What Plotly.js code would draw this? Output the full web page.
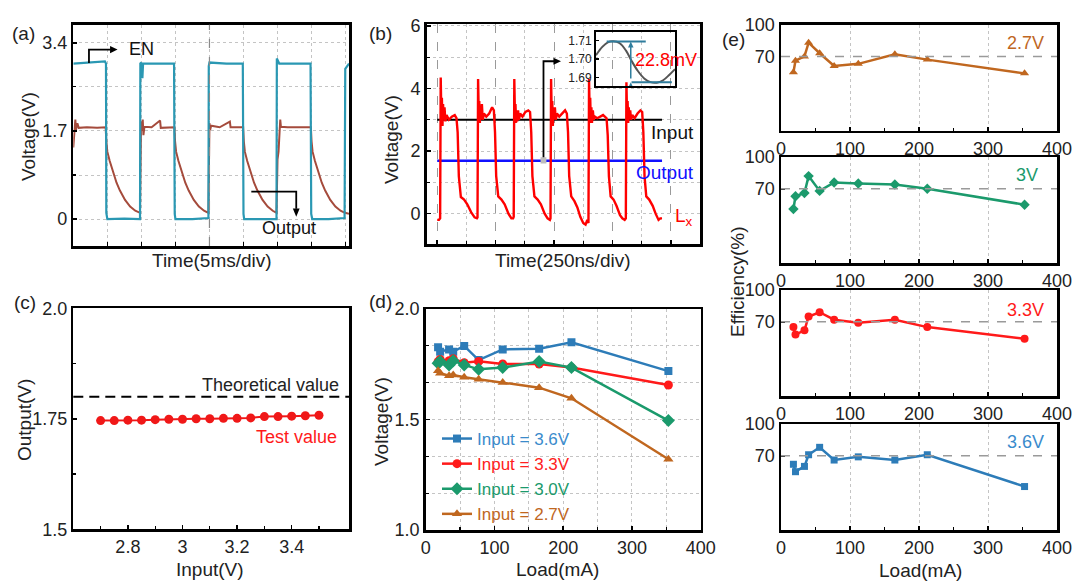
<!DOCTYPE html>
<html>
<head>
<meta charset="utf-8">
<script src="https://cdn.plot.ly/plotly-3.0.1.min.js"></script>
<style>
html, body { margin: 0; padding: 0; background: #fff; }
#chart { width: 1080px; height: 588px; }
</style>
</head>
<body>
<div id="chart"></div>
<script>
// (a) EN and output transient, time in divisions (5 ms/div)
var enTime = [0, 0.5, 0.93, 0.96, 0.97, 1.0, 1.5, 1.96, 1.97, 2.0, 2.03, 2.05, 2.5, 2.96, 2.98, 3.0, 3.5, 3.97, 3.98, 4.0, 4.5, 4.98, 5.0, 5.02, 5.5, 5.97, 5.98, 6.02, 6.05, 6.5, 6.97, 6.99, 7.02, 7.5, 7.97, 7.99, 8.1];
var enVolt = [3.0, 3.02, 3.04, 3.0, 0.12, 0.0, 0.01, 0.0, 3.0, 3.02, 2.72, 3.0, 3.0, 3.0, 0.1, 0.0, 0.0, 0.02, 2.95, 3.02, 3.0, 3.0, 0.1, 0.0, 0.0, 0.0, 3.1, 3.05, 3.0, 3.0, 3.0, 0.1, 0.0, 0.0, 0.02, 2.9, 3.0];
var outTime = [
    0, 0.02, 0.04, 0.06, 0.08, 0.12, 0.16, 0.4, 0.7, 0.95,
    0.97, 1.0, 1.07, 1.17, 1.27, 1.37, 1.52, 1.67, 1.82, 1.96,
    1.97, 1.99, 2.01, 2.04, 2.06, 2.09, 2.3, 2.55, 2.57, 2.97,
    2.99, 3.02, 3.09, 3.19, 3.29, 3.39, 3.54, 3.69, 3.84, 3.97,
    3.98, 4.0, 4.02, 4.05, 4.3, 4.6, 4.62, 4.99,
    5.01, 5.04, 5.11, 5.21, 5.31, 5.41, 5.56, 5.71, 5.86, 5.97,
    5.98, 6.0, 6.03, 6.06, 6.08, 6.1, 6.3, 6.6, 6.98,
    7.0, 7.03, 7.1, 7.2, 7.3, 7.4, 7.55, 7.7, 7.85, 7.98, 8.1];
var outVolt = [
    1.38, 1.6, 1.8, 1.92, 1.72, 1.85, 1.76, 1.77, 1.76, 1.77,
    1.5, 1.3, 1.12, 0.9, 0.7, 0.55, 0.37, 0.24, 0.16, 0.12,
    1.78, 1.88, 1.7, 1.92, 1.62, 1.78, 1.77, 1.9, 1.76, 1.77,
    1.5, 1.3, 1.12, 0.9, 0.7, 0.55, 0.37, 0.24, 0.16, 0.12,
    1.7, 1.85, 1.72, 1.8, 1.77, 1.88, 1.77, 1.77,
    1.5, 1.3, 1.12, 0.9, 0.7, 0.55, 0.37, 0.24, 0.16, 0.12,
    0.8, 1.15, 1.3, 1.75, 1.92, 1.78, 1.77, 1.77, 1.77,
    1.5, 1.3, 1.12, 0.9, 0.7, 0.55, 0.37, 0.24, 0.16, 0.12, 0.1];

// (b) switching node, time in divisions (250 ns/div)
var lxTime = [
    0, 0.03, 0.05, 0.06, 0.072, 0.08, 0.09, 0.10, 0.11, 0.125, 0.14, 0.16, 0.2, 0.25, 0.3, 0.33, 0.35, 0.37, 0.405, 0.46, 0.515, 0.58, 0.64, 0.68, 0.69,
    0.70, 0.712, 0.72, 0.73, 0.74, 0.75, 0.765, 0.78, 0.80, 0.84, 0.89, 0.94, 0.97, 0.99, 1.01, 1.045, 1.10, 1.155, 1.22, 1.27, 1.30, 1.31,
    1.32, 1.332, 1.34, 1.35, 1.36, 1.37, 1.385, 1.40, 1.42, 1.46, 1.51, 1.56, 1.59, 1.61, 1.63, 1.665, 1.72, 1.775, 1.84, 1.89, 1.93, 1.94,
    1.95, 1.962, 1.97, 1.98, 1.99, 2.0, 2.015, 2.03, 2.05, 2.09, 2.14, 2.19, 2.22, 2.24, 2.26, 2.295, 2.35, 2.40, 2.45, 2.50, 2.54, 2.57, 2.59,
    2.60, 2.612, 2.62, 2.63, 2.64, 2.65, 2.665, 2.68, 2.70, 2.74, 2.79, 2.84, 2.90, 2.92, 2.94, 2.97, 3.02, 3.07, 3.13, 3.17, 3.21, 3.23,
    3.24, 3.252, 3.26, 3.27, 3.28, 3.29, 3.305, 3.32, 3.34, 3.38, 3.43, 3.48, 3.51, 3.53, 3.55, 3.58, 3.63, 3.69, 3.74, 3.79, 3.82, 3.85];
var lxVolt = [
    -0.2, -0.2, -0.15, 4.35, 3.0, 3.7, 2.8, 3.5, 3.0, 3.4, 2.95, 3.15, 3.0, 3.1, 3.15, 3.05, 2.6, 1.2, 0.53, 0.45, 0.3, 0.05, -0.12, -0.15, -0.12,
    4.3, 3.1, 3.6, 2.9, 3.4, 3.0, 3.5, 3.0, 3.2, 3.1, 3.2, 3.4, 3.3, 2.6, 1.2, 0.55, 0.45, 0.3, 0.0, -0.15, -0.15, -0.1,
    4.3, 3.0, 3.5, 2.9, 3.3, 2.95, 3.3, 3.0, 3.2, 3.1, 3.25, 3.3, 3.25, 2.6, 1.2, 0.55, 0.45, 0.3, 0.0, -0.15, -0.2, -0.15,
    4.3, 3.0, 3.6, 2.8, 3.4, 3.0, 3.4, 3.0, 3.2, 3.1, 3.2, 3.3, 3.2, 2.6, 1.2, 0.55, 0.4, 0.2, -0.1, -0.3, -0.35, -0.2, -0.3,
    4.3, 3.0, 3.7, 2.9, 3.4, 2.9, 3.3, 3.0, 3.1, 3.05, 3.1, 3.15, 3.05, 2.5, 1.2, 0.55, 0.45, 0.25, -0.05, -0.15, -0.2, -0.15,
    4.2, 3.0, 3.6, 2.9, 3.4, 3.0, 3.3, 3.0, 3.15, 3.05, 3.2, 3.3, 3.25, 2.6, 1.2, 0.55, 0.45, 0.25, 0.0, -0.2, -0.15, -0.15];
var railTime = [0, 3.85];
var inputLevel = 3.0;
var outputLevel = 1.69;

// (b) inset: output ripple
var rippleTime = [0, 0.08, 0.15, 0.22, 0.3, 0.38, 0.45, 0.53, 0.61, 0.69, 0.77, 0.85, 0.93, 1.0];
var rippleVolt = [1.7020, 1.7065, 1.7090, 1.7095, 1.7085, 1.7045, 1.6990, 1.6935, 1.6895, 1.6875, 1.6872, 1.6885, 1.6915, 1.6945];
var rippleMax = 1.7094;
var rippleMin = 1.6874;

// (c) line regulation
var inputV = [2.7, 2.75, 2.8, 2.85, 2.9, 2.95, 3.0, 3.05, 3.1, 3.15, 3.2, 3.25, 3.3, 3.35, 3.4, 3.45, 3.5];
var outputV = [1.746, 1.746, 1.747, 1.747, 1.748, 1.749, 1.749, 1.750, 1.750, 1.751, 1.751, 1.752, 1.755, 1.755, 1.756, 1.757, 1.758];
var theoretical = 1.8;

// (d) load regulation and (e) efficiency
var loadmA = [18, 21, 34, 40, 56, 77, 112, 165, 212, 353];
var v36 = [1.827, 1.807, 1.817, 1.807, 1.833, 1.769, 1.817, 1.820, 1.849, 1.719];
var v33 = [1.762, 1.772, 1.766, 1.775, 1.757, 1.763, 1.751, 1.751, 1.735, 1.656];
var v30 = [1.754, 1.762, 1.747, 1.766, 1.747, 1.727, 1.735, 1.762, 1.735, 1.495];
var v27 = [1.721, 1.709, 1.698, 1.701, 1.691, 1.682, 1.667, 1.644, 1.596, 1.320];
var eff27 = [55, 66, 70, 83, 73, 61, 63, 72, 67, 54];
var eff30 = [51, 63, 66, 82, 68, 76, 75, 74, 70, 55];
var eff33 = [65, 58, 62, 75, 79, 72, 69, 72, 65, 54];
var eff36 = [62, 55, 60, 71, 78, 66, 69, 66, 71, 41];

var FONT = 'Liberation Sans, Arial, Helvetica, sans-serif';
var C36 = '#2d7cb8', C33 = '#ff1a1a', C30 = '#1b9a6c', C27 = '#c0671f';
var GRID = '#c4c4c4';

function px(x) { return x / 1080; }
function py(y) { return 1 - y / 588; }

function boxAxis(extra)
{
    var ax = {
        showline: true, linecolor: '#000', linewidth: 2.5, mirror: true,
        ticks: 'inside', ticklen: 4, tickwidth: 1.5, tickcolor: '#000',
        showgrid: false, zeroline: false, fixedrange: true,
        tickfont: {family: FONT, size: 18, color: '#222'}
    };
    for (var k in extra) ax[k] = extra[k];
    return ax;
}

function txt(x, y, s, opts)
{
    var a = {
        xref: 'paper', yref: 'paper', x: px(x), y: py(y), text: s, showarrow: false,
        xanchor: 'center', yanchor: 'middle',
        font: {family: FONT, size: 18, color: '#222'}
    };
    for (var k in opts) a[k] = opts[k];
    return a;
}

// small filled arrow head drawn as a path; dx/dy are the head length and half width in axis units
function head(xr, yr, x, y, dir, len, half, color)
{
    var p;
    if (dir == 'right') p = 'M' + x + ',' + y + ' L' + (x - len) + ',' + (y + half) + ' L' + (x - len) + ',' + (y - half) + ' Z';
    else if (dir == 'down') p = 'M' + x + ',' + y + ' L' + (x - half) + ',' + (y + len) + ' L' + (x + half) + ',' + (y + len) + ' Z';
    else p = 'M' + x + ',' + y + ' L' + (x - half) + ',' + (y - len) + ' L' + (x + half) + ',' + (y - len) + ' Z';
    return {type: 'path', xref: xr, yref: yr, path: p, fillcolor: color || '#000', line: {width: 0}};
}

var traces = [
    {x: outTime, y: outVolt, xaxis: 'x', yaxis: 'y', mode: 'lines', line: {color: '#a54b3c', width: 2}, showlegend: false},
    {x: enTime, y: enVolt, xaxis: 'x', yaxis: 'y', mode: 'lines', line: {color: '#2a98b3', width: 2.2}, showlegend: false},

    {x: railTime, y: [inputLevel, inputLevel], xaxis: 'x2', yaxis: 'y2', mode: 'lines', line: {color: '#000', width: 2.2}, showlegend: false},
    {x: railTime, y: [outputLevel, outputLevel], xaxis: 'x2', yaxis: 'y2', mode: 'lines', line: {color: '#1010ff', width: 2.5}, showlegend: false},
    {x: lxTime, y: lxVolt, xaxis: 'x2', yaxis: 'y2', mode: 'lines', line: {color: '#ff0000', width: 2.4}, showlegend: false},

    {x: rippleTime, y: rippleVolt, xaxis: 'x3', yaxis: 'y3', mode: 'lines', line: {color: '#555', width: 2, shape: 'spline'}, showlegend: false},

    {x: inputV, y: outputV, xaxis: 'x4', yaxis: 'y4', mode: 'lines+markers', line: {color: '#f01818', width: 2}, marker: {color: '#f01818', size: 9}, showlegend: false},

    {x: loadmA, y: v36, xaxis: 'x5', yaxis: 'y5', mode: 'lines+markers', name: '<span style="color:#3a8bcc">Input = 3.6V</span>', line: {color: C36, width: 2.5}, marker: {symbol: 'square', size: 8, color: C36}},
    {x: loadmA, y: v33, xaxis: 'x5', yaxis: 'y5', mode: 'lines+markers', name: '<span style="color:#ff2020">Input = 3.3V</span>', line: {color: C33, width: 2.5}, marker: {symbol: 'circle', size: 9, color: C33}},
    {x: loadmA, y: v30, xaxis: 'x5', yaxis: 'y5', mode: 'lines+markers', name: '<span style="color:#1b9a6c">Input = 3.0V</span>', line: {color: C30, width: 2.5}, marker: {symbol: 'diamond', size: 10, color: C30}},
    {x: loadmA, y: v27, xaxis: 'x5', yaxis: 'y5', mode: 'lines+markers', name: '<span style="color:#c0671f">Input = 2.7V</span>', line: {color: C27, width: 2.5}, marker: {symbol: 'triangle-up', size: 9, color: C27}},

    {x: loadmA, y: eff27, xaxis: 'x6', yaxis: 'y6', mode: 'lines+markers', line: {color: C27, width: 2.5}, marker: {symbol: 'triangle-up', size: 8, color: C27}, showlegend: false},
    {x: loadmA, y: eff30, xaxis: 'x7', yaxis: 'y7', mode: 'lines+markers', line: {color: C30, width: 2.5}, marker: {symbol: 'diamond', size: 8, color: C30}, showlegend: false},
    {x: loadmA, y: eff33, xaxis: 'x8', yaxis: 'y8', mode: 'lines+markers', line: {color: C33, width: 2.5}, marker: {symbol: 'circle', size: 8, color: C33}, showlegend: false},
    {x: loadmA, y: eff36, xaxis: 'x9', yaxis: 'y9', mode: 'lines+markers', line: {color: C36, width: 2.5}, marker: {symbol: 'square', size: 7, color: C36}, showlegend: false}
];

var dotGrid = {showgrid: true, gridcolor: GRID, griddash: 'dot', gridwidth: 1};
function withGrid(o) { for (var k in dotGrid) o[k] = dotGrid[k]; return o; }
var dotMinor = function(vals, grid)
{
    var m = {tickvals: vals, ticks: 'inside', ticklen: 3, tickwidth: 1.2, tickcolor: '#000'};
    if (grid) { m.showgrid = true; m.gridcolor = GRID; m.griddash = 'dot'; }
    return m;
};

var effY = [[130.5, 24.7], [263, 157], [396, 290], [530, 424]];

var layout = {
    width: 1080, height: 588, autosize: false,
    margin: {l: 0, r: 0, t: 0, b: 0},
    paper_bgcolor: '#fff', plot_bgcolor: 'rgba(0,0,0,0)',
    font: {family: FONT, size: 18, color: '#222'},
    showlegend: true,
    legend: {x: px(437), y: py(421), xanchor: 'left', yanchor: 'top', bgcolor: 'rgba(0,0,0,0)',
             font: {family: FONT, size: 17}, tracegroupgap: 0, itemwidth: 30},

    xaxis: boxAxis(withGrid({domain: [px(73.3), px(349)], anchor: 'y', range: [0, 8.1], tickvals: [1, 2, 3, 4, 5, 6, 7, 8], showticklabels: false})),
    yaxis: boxAxis(withGrid({domain: [py(246), py(24.7)], anchor: 'x', range: [-0.52, 3.75], tickvals: [0, 1.7, 3.4], ticktext: ['0', '1.7', '3.4'],
                     minor: dotMinor([0.85, 2.55], true)})),

    xaxis2: boxAxis({domain: [px(426.7), px(700)], anchor: 'y2', range: [-0.18, 4.5], tickvals: [0, 1, 2, 3, 4], showticklabels: false,
                     showgrid: true, gridcolor: '#9a9a9a', griddash: 'dash', gridwidth: 1,
                     minor: dotMinor([0.5, 1.5, 2.5, 3.5], true)}),
    yaxis2: boxAxis(withGrid({domain: [py(244), py(24)], anchor: 'x2', range: [-0.97, 6.06], tickvals: [0, 2, 4, 6],
                     minor: dotMinor([1, 3, 5], true)})),

    xaxis3: boxAxis({domain: [px(596), px(675)], anchor: 'y3', range: [0, 1], showticklabels: false, ticks: '', linewidth: 2}),
    yaxis3: boxAxis({domain: [py(86), py(32.3)], anchor: 'x3', range: [1.6854, 1.7144], tickvals: [1.69, 1.70, 1.71], ticktext: ['1.69', '1.70', '1.71'],
                     linewidth: 2, ticklen: 3, tickfont: {family: FONT, size: 12, color: '#222'}}),

    xaxis4: boxAxis({domain: [px(73.3), px(349)], anchor: 'y4', range: [2.6, 3.61], tickvals: [2.8, 3.0, 3.2, 3.4], ticktext: ['2.8', '3', '3.2', '3.4'],
                     minor: dotMinor([2.7, 2.9, 3.1, 3.3, 3.5], false)}),
    yaxis4: boxAxis({domain: [py(529.3), py(308.3)], anchor: 'x4', range: [1.5, 2.0], tickvals: [1.5, 1.75, 2.0], ticktext: ['1.5', '1.75', '2.0'],
                     minor: dotMinor([1.625, 1.875], false)}),

    xaxis5: boxAxis(withGrid({domain: [px(425.7), px(700.7)], anchor: 'y5', range: [0, 400], tickvals: [0, 100, 200, 300, 400],
                     minor: dotMinor([50, 150, 250, 350], true)})),
    yaxis5: boxAxis(withGrid({domain: [py(530), py(309)], anchor: 'x5', range: [1, 2], tickvals: [1, 1.5, 2], ticktext: ['1.0', '1.5', '2.0'],
                     minor: dotMinor([1.1667, 1.3333, 1.6667, 1.8333], true)})),

    annotations: [],
    shapes: []
};

for (var i = 0; i < 4; i++)
{
    var n = i + 6;
    layout['xaxis' + n] = boxAxis(withGrid({domain: [px(781), px(1057)], anchor: 'y' + n, range: [0, 400], tickvals: [0, 100, 200, 300, 400],
                     minor: dotMinor([50, 150, 250, 350], false)}));
    layout['yaxis' + n] = boxAxis({domain: [py(effY[i][0]), py(effY[i][1])], anchor: 'x' + n, range: [0, 100], tickvals: [70, 100]});
    layout.shapes.push({type: 'line', xref: 'x' + n + ' domain', yref: 'y' + n, x0: 0, x1: 1, y0: 70, y1: 70,
                        line: {color: '#9a9a9a', width: 1.5, dash: 'dash'}});
}

// guide lines and pointer arrows
var TEAL = '#2f7d9d';
layout.shapes.push(
    {type: 'line', xref: 'x', yref: 'y domain', x0: 4, x1: 4, y0: 0, y1: 1, line: {color: '#8a8a8a', width: 1.2, dash: 'dash'}},
    {type: 'path', xref: 'x', yref: 'y', path: 'M0.46,3.01 L0.46,3.27 L1.1,3.27', line: {color: '#000', width: 1.8}},
    head('x', 'y', 1.3, 3.27, 'right', 0.22, 0.07),
    {type: 'path', xref: 'x', yref: 'y', path: 'M5.23,0.53 L6.55,0.53 L6.55,0.2', line: {color: '#000', width: 1.8}},
    head('x', 'y', 6.55, 0.045, 'down', 0.16, 0.1),
    {type: 'rect', xref: 'x2', yref: 'y2', x0: 1.77, x1: 1.87, y0: 1.6, y1: 1.8, fillcolor: '#bdbdbd', line: {width: 0}},
    {type: 'path', xref: 'x2', yref: 'y2', path: 'M1.82,1.8 L1.82,4.87 L2.0,4.87', line: {color: '#000', width: 1.8}},
    head('x2', 'y2', 2.12, 4.87, 'right', 0.13, 0.11),
    {type: 'line', xref: 'x3', yref: 'y3', x0: 0.135, x1: 0.63, y0: rippleMax, y1: rippleMax, line: {color: TEAL, width: 2}},
    {type: 'line', xref: 'x3', yref: 'y3', x0: 0.45, x1: 0.96, y0: rippleMin, y1: rippleMin, line: {color: TEAL, width: 2}},
    {type: 'line', xref: 'x3', yref: 'y3', x0: 0.44, x1: 0.44, y0: rippleMin + 0.002, y1: rippleMax - 0.002, line: {color: TEAL, width: 1.5}},
    head('x3', 'y3', 0.44, rippleMax, 'up', 0.0032, 0.035, TEAL),
    head('x3', 'y3', 0.44, rippleMin, 'down', -0.0032, 0.035, TEAL),
    {type: 'line', xref: 'x4 domain', yref: 'y4', x0: 0, x1: 1, y0: theoretical, y1: theoretical, line: {color: '#000', width: 2, dash: '10px,6px'}}
);

var ann = layout.annotations;
var F19 = {family: FONT, size: 19, color: '#222'};
// panel labels
ann.push(txt(23, 33, '(a)', {font: F19}));
ann.push(txt(380, 33, '(b)', {font: F19}));
ann.push(txt(25, 302, '(c)', {font: F19}));
ann.push(txt(380, 301, '(d)', {font: F19}));
ann.push(txt(733, 40, '(e)', {font: F19}));
// axis titles
ann.push(txt(28, 137, 'Voltage(V)', {textangle: -90, font: F19}));
ann.push(txt(212, 260, 'Time(5ms/div)', {font: F19}));
ann.push(txt(391, 140, 'Voltage(V)', {textangle: -90, font: F19}));
ann.push(txt(563, 260, 'Time(250ns/div)', {font: F19}));
ann.push(txt(24, 420, 'Output(V)', {textangle: -90, font: F19}));
ann.push(txt(210, 569, 'Input(V)', {font: F19}));
ann.push(txt(381, 422, 'Voltage(V)', {textangle: -90, font: F19}));
ann.push(txt(557, 569, 'Load(mA)', {font: F19}));
ann.push(txt(737, 282, 'Efficiency(%)', {textangle: -90, font: F19}));
ann.push(txt(920, 570, 'Load(mA)', {font: F19}));
// in-plot labels
ann.push(txt(141, 49, 'EN', {font: {family: FONT, size: 18, color: '#111'}}));
ann.push(txt(289, 228, 'Output', {font: {family: FONT, size: 18, color: '#111'}}));
ann.push(txt(672, 133, 'Input', {font: {family: FONT, size: 19, color: '#111'}}));
ann.push(txt(665, 172, 'Output', {font: {family: FONT, size: 19, color: '#1010ff'}}));
ann.push(txt(684, 217, 'L<sub>x</sub>', {font: {family: FONT, size: 19, color: '#ff0000'}}));
ann.push(txt(666, 60, '22.8mV', {font: {family: FONT, size: 18, color: '#ff0000'}}));
ann.push(txt(270, 385, 'Theoretical value', {font: {family: FONT, size: 18, color: '#222'}}));
ann.push(txt(296, 437, 'Test value', {font: {family: FONT, size: 18, color: '#ff1a1a'}}));
ann.push(txt(1046, 43, '2.7V', {xanchor: 'right', font: {family: FONT, size: 18, color: C27}}));
ann.push(txt(1040, 175, '3V', {xanchor: 'right', font: {family: FONT, size: 18, color: C30}}));
ann.push(txt(1046, 310, '3.3V', {xanchor: 'right', font: {family: FONT, size: 18, color: C33}}));
ann.push(txt(1046, 442, '3.6V', {xanchor: 'right', font: {family: FONT, size: 18, color: '#3a8bcc'}}));

Plotly.newPlot('chart', traces, layout, {displayModeBar: false, staticPlot: true});
</script>
</body>
</html>
